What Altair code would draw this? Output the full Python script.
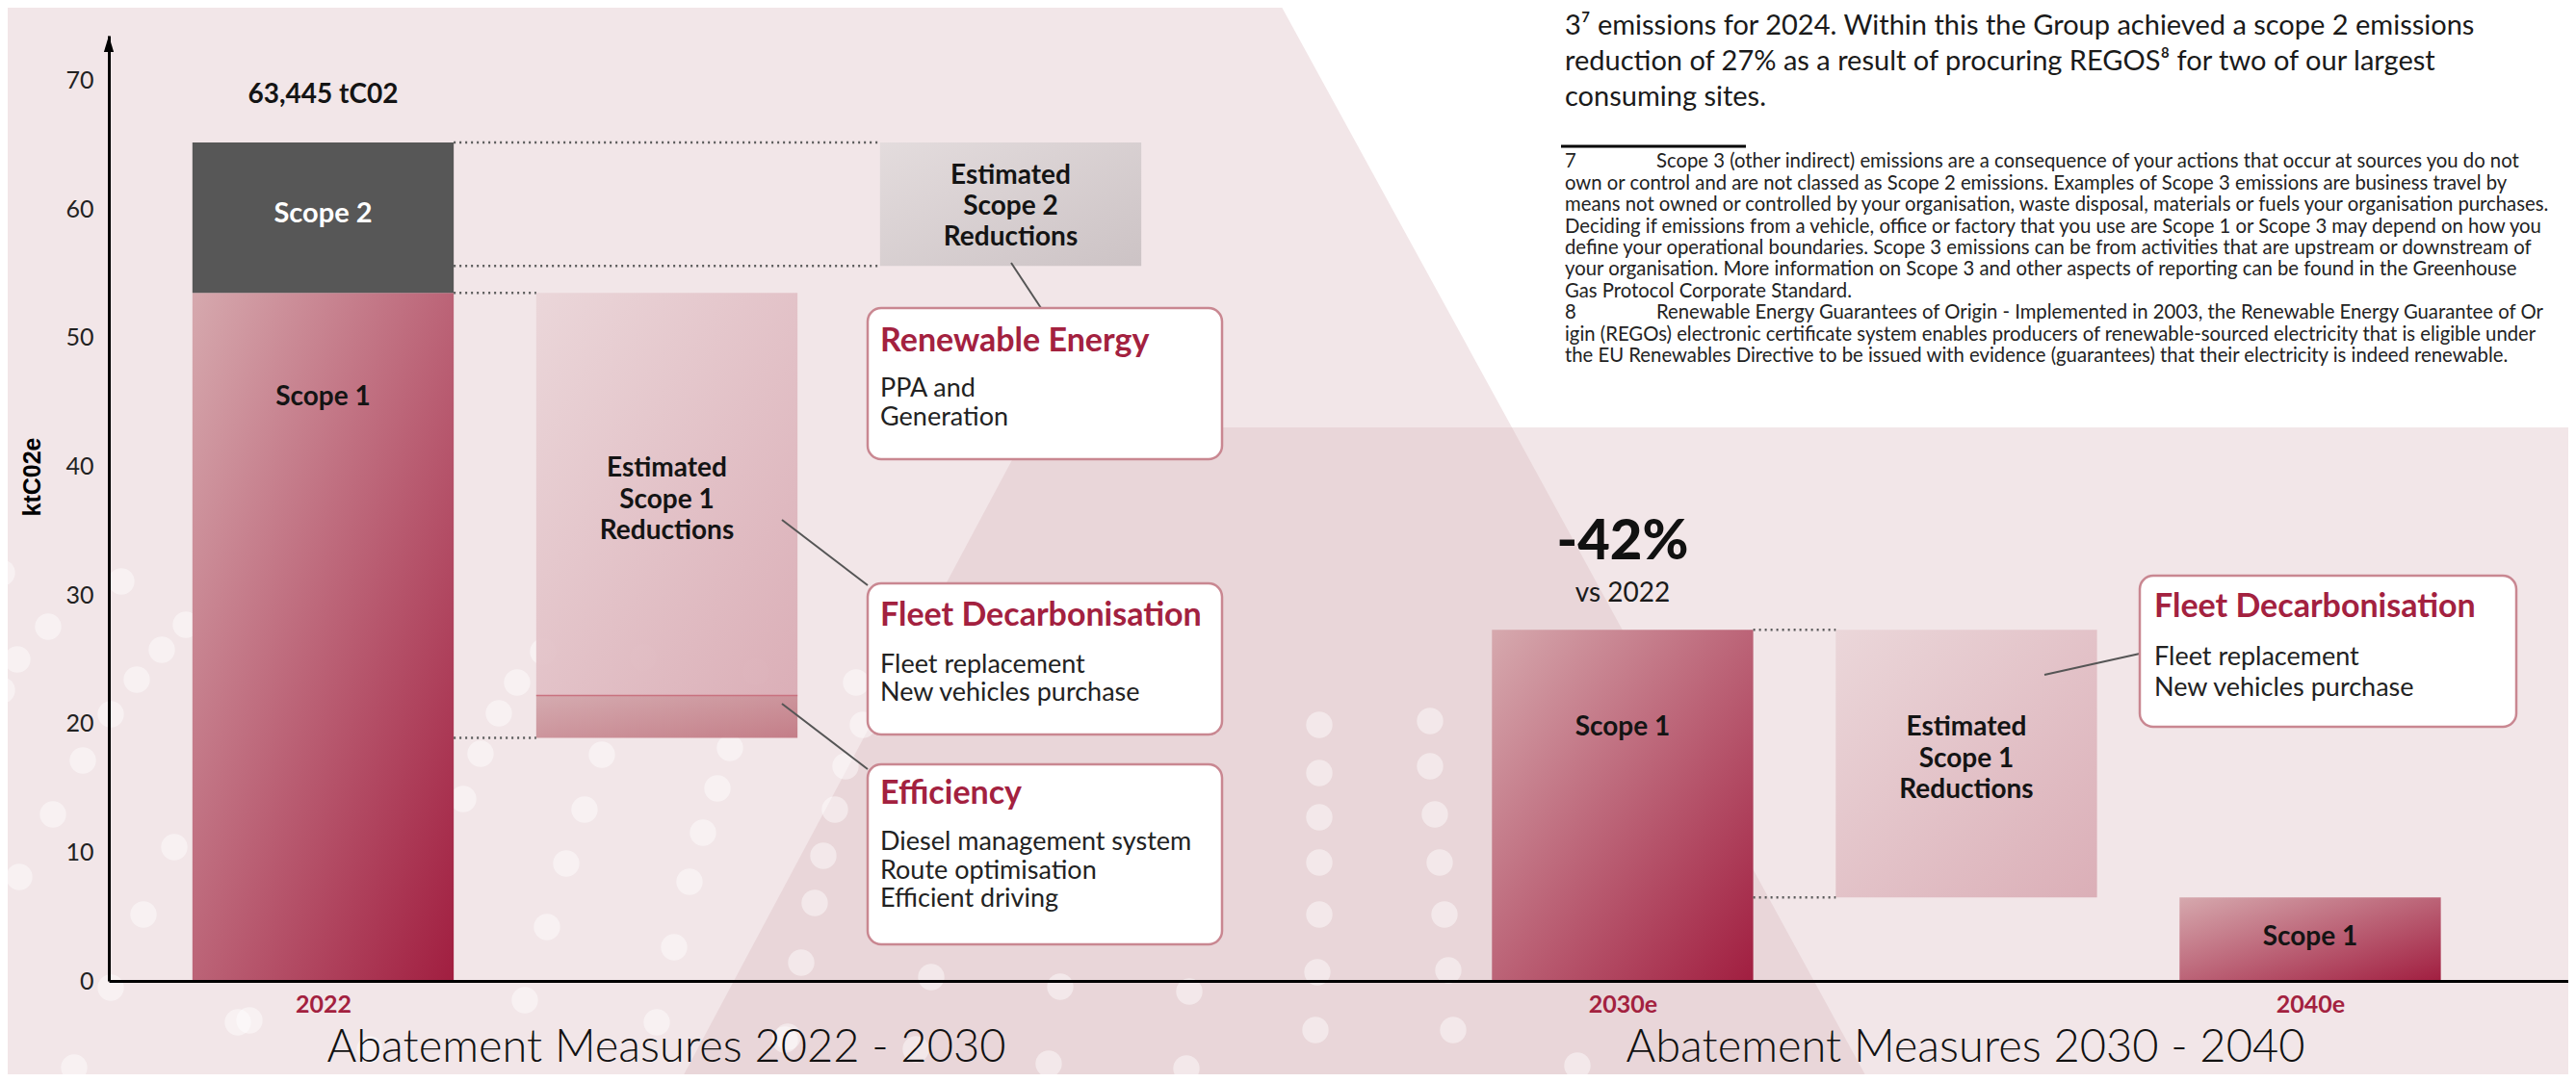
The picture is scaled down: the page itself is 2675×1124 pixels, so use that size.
import altair as alt
import pandas as pd

# ------------------------------------------------------------------ data
years = ["2022", "2030e", "2040e"]
year_slot = [0.0, 3.78, 5.78]            # horizontal slot of each year's bar
scope1_kt = [53.5, 27.3, 6.5]
scope2_kt = [11.7, 0.0, 0.0]
total_2022_label = "63,445 tC02"

reduction_kind = ["scope2", "fleet", "efficiency", "fleet2"]
reduction_slot = [2.0, 1.0, 1.0, 4.78]
reduction_top = [65.2, 53.5, 22.2, 27.3]
reduction_bottom = [55.6, 22.2, 18.9, 6.5]

y_ticks = [0, 10, 20, 30, 40, 50, 60, 70]

reduction_text = ["Estimated", "Scope 1", "Reductions"]
scope2_reduction_text = ["Estimated", "Scope 2", "Reductions"]
callout_titles = ["Renewable Energy", "Fleet Decarbonisation", "Efficiency", "Fleet Decarbonisation"]
callout_bodies = [
    ["PPA and", "Generation"],
    ["Fleet replacement", "New vehicles purchase"],
    ["Diesel management system", "Route optimisation", "Efficient driving"],
    ["Fleet replacement", "New vehicles purchase"],
]
section_titles = ["Abatement Measures 2022 - 2030", "Abatement Measures 2030 - 2040"]
change_label = "-42%"
change_sub = "vs 2022"
paragraph = [
    "3\u2077 emissions for 2024. Within this the Group achieved a scope 2 emissions",
    "reduction of 27% as a result of procuring REGOS\u2078 for two of our largest",
    "consuming sites.",
]
footnote_nums = ["7", "8"]
footnotes = [
    "Scope 3 (other indirect) emissions are a consequence of your actions that occur at sources you do not",
    "own or control and are not classed as Scope 2 emissions. Examples of Scope 3 emissions are business travel by",
    "means not owned or controlled by your organisation, waste disposal, materials or fuels your organisation purchases.",
    "Deciding if emissions from a vehicle, office or factory that you use are Scope 1 or Scope 3 may depend on how you",
    "define your operational boundaries. Scope 3 emissions can be from activities that are upstream or downstream of",
    "your organisation. More information on Scope 3 and other aspects of reporting can be found in the Greenhouse",
    "Gas Protocol Corporate Standard.",
    "Renewable Energy Guarantees of Origin - Implemented in 2003, the Renewable Energy Guarantee of Or",
    "igin (REGOs) electronic certificate system enables producers of renewable-sourced electricity that is eligible under",
    "the EU Renewables Directive to be issued with evidence (guarantees) that their electricity is indeed renewable.",
]

# ------------------------------------------------------------------ layout
W, H = 2554, 982
PAD = {"left": 105, "top": 29, "right": 0, "bottom": 97}
OFF_X, OFF_Y = 8 + PAD["left"], 8 + PAD["top"]
X_DOM = [-0.6232, 6.5308]
Y_DOM = [0, 73.5]
HALF = 0.38  # half bar width in slot units
RED = "#A3213F"


def sx(px):
    return X_DOM[0] + (px - OFF_X) * (X_DOM[1] - X_DOM[0]) / W


def sy(py):
    return Y_DOM[1] - (py - OFF_Y) * (Y_DOM[1] - Y_DOM[0]) / H


XS = alt.Scale(domain=X_DOM, nice=False, zero=False)
YS = alt.Scale(domain=Y_DOM, nice=False, zero=False)

label_expr = " : ".join(
    f"abs(datum.value - {p}) < 0.01 ? '{y}'" for p, y in zip(year_slot, years)
) + " : ''"

X_AXIS = alt.Axis(values=year_slot, labelExpr=label_expr, grid=False, ticks=False,
                  domainColor="black", domainWidth=3, labelFont="Lato", labelFontSize=25,
                  labelFontWeight="bold", labelColor=RED, labelPadding=12, title=None,
                  zindex=1, labelFlush=False)
Y_AXIS = alt.Axis(values=y_ticks, grid=False, ticks=False, domainColor="black", domainWidth=3,
                  labelFont="Lato", labelFontSize=25, labelColor="#222222", labelPadding=16,
                  title="ktC02e", titleFont="Liberation Sans", titleFontSize=25,
                  titleFontWeight="bold", titleColor="black", titleAngle=270, titleX=-80,
                  titleY=458, titleAlign="center", titleBaseline="middle", zindex=1,
                  labelFlush=False)


def X(f):
    return alt.X(f, type="quantitative", scale=XS, axis=X_AXIS)


def Y(f):
    return alt.Y(f, type="quantitative", scale=YS, axis=Y_AXIS)


def grad(c0, c1):
    return alt.LinearGradient(
        gradient="linear",
        stops=[alt.GradientStop(color=c0, offset=0), alt.GradientStop(color=c1, offset=1)],
        x1=0, y1=0, x2=1, y2=1,
    )


# ------------------------------------------------------------------ background shapes
white_poly = pd.DataFrame({"x": [sx(1327), sx(1570), sx(2690)],
                           "y": [sy(0)] * 3,
                           "y2": [sy(0), sy(444), sy(444)]})
trap = pd.DataFrame({"x": [sx(706), sx(1069), sx(1570), sx(1941)],
                     "y": [sy(1124), sy(444), sy(444), sy(1124)],
                     "y2": [sy(1124)] * 4})
bg_white = alt.Chart(white_poly).mark_area(color="white", orient="vertical").encode(
    x=X("x"), y=Y("y"), y2="y2")
bg_trap = alt.Chart(trap).mark_area(color="#E9D6D9", orient="vertical").encode(
    x=X("x"), y=Y("y"), y2="y2")

dot_px = [
    (2, 595), (126, 604), (193, 649), (50, 651), (18, 685), (168, 675), (142, 706), (2, 717), (115, 742),
    (86, 790), (55, 846), (20, 911), (181, 880), (149, 950), (115, 1026), (247, 1062), (77, 1109),
    (499, 783), (481, 830), (518, 741), (537, 709), (564, 677), (668, 683), (785, 698), (625, 784),
    (607, 841), (588, 897), (568, 963), (716, 916), (730, 865), (745, 819), (758, 777), (700, 984),
    (545, 1039), (682, 1062), (818, 1077), (855, 889), (867, 841), (878, 796), (846, 938), (832, 1000),
    (896, 753), (889, 709), (1370, 753), (1485, 749), (1370, 803), (1485, 796), (1370, 849), (1490, 846),
    (1370, 896), (1495, 896), (1370, 950), (1500, 950), (1368, 1010), (1504, 1008), (967, 1015),
    (1101, 1025), (1235, 1030), (951, 1090), (1089, 1105), (1232, 1110), (1366, 1070), (1509, 1070),
    (1638, 1107), (259, 1060), (384, 1090), (815, 1080),
]
dots = pd.DataFrame({"x": [sx(p[0]) for p in dot_px], "y": [sy(p[1]) for p in dot_px]})
bg_dots = alt.Chart(dots).mark_circle(size=750, color="white", opacity=0.45).encode(
    x=X("x"), y=Y("y"))

# ------------------------------------------------------------------ bars
bars = pd.DataFrame({"year": years, "slot": year_slot, "s1": scope1_kt, "s2": scope2_kt})
bars["left"] = bars["slot"] - HALF
bars["right"] = bars["slot"] + HALF
bars["base"] = 0.0
bars["s2top"] = bars["s1"] + bars["s2"]

scope1_layer = alt.Chart(bars).mark_rect(color=grad("#D6A9AE", "#A11E40")).encode(
    x=X("left"), x2="right", y=Y("base"), y2="s1")
scope2_layer = alt.Chart(bars[bars["s2"] > 0]).mark_rect(color="#575757").encode(
    x=X("left"), x2="right", y=Y("s1"), y2="s2top")

red = pd.DataFrame({"kind": reduction_kind, "slot": reduction_slot,
                    "top": reduction_top, "bottom": reduction_bottom})
red["left"] = red["slot"] - HALF
red["right"] = red["slot"] + HALF
red_fill = {"scope2": ("#E2DBDC", "#C9C0C2"), "fleet": ("#EAD5D8", "#D9AAB3"),
            "efficiency": ("#D2A6AB", "#C07580"), "fleet2": ("#EAD5D8", "#D9AAB3")}
red_layers = [
    alt.Chart(red[red["kind"] == k]).mark_rect(color=grad(*red_fill[k]), opacity=0.92).encode(
        x=X("left"), x2="right", y=Y("bottom"), y2="top")
    for k in reduction_kind
]
eff_edge = alt.Chart(red[red["kind"] == "efficiency"]).mark_rule(color="#C9727F", strokeWidth=1.5).encode(
    x=X("left"), x2="right", y=Y("top"))

# dotted guide lines from bar edges to reduction boxes
guides = pd.DataFrame({
    "x": [year_slot[0] + HALF] * 4 + [year_slot[1] + HALF] * 2,
    "x2": [reduction_slot[0] - HALF] * 2 + [reduction_slot[1] - HALF] * 2 + [reduction_slot[3] - HALF] * 2,
    "y": [reduction_top[0], reduction_bottom[0], reduction_top[1], reduction_bottom[2],
          reduction_top[3], reduction_bottom[3]],
})
guide_layer = alt.Chart(guides).mark_rule(color="#5A5A5A", strokeWidth=2.5, strokeDash=[2, 4]).encode(
    x=X("x"), x2="x2", y=Y("y"))

# ------------------------------------------------------------------ callouts
callout_px = [(901, 1269, 320, 477), (901, 1269, 606, 763), (901, 1269, 794, 981), (2222, 2613, 598, 755)]
boxes = pd.DataFrame({"x": [sx(c[0]) for c in callout_px], "x2": [sx(c[1]) for c in callout_px],
                      "y": [sy(c[2]) for c in callout_px], "y2": [sy(c[3]) for c in callout_px]})
box_layer = alt.Chart(boxes).mark_rect(cornerRadius=14, fill="white", stroke="#C98791",
                                       strokeWidth=2.5).encode(x=X("x"), x2="x2", y=Y("y"), y2="y2")

conn_px = [(1050, 273, 1081, 320), (812, 540, 901, 608), (812, 731, 901, 799), (2123, 701, 2222, 679)]
conns = pd.DataFrame({"x": [sx(c[0]) for c in conn_px], "y": [sy(c[1]) for c in conn_px],
                      "x2": [sx(c[2]) for c in conn_px], "y2": [sy(c[3]) for c in conn_px]})
conn_layer = alt.Chart(conns).mark_rule(color="#555555", strokeWidth=2).encode(
    x=X("x"), y=Y("y"), x2="x2", y2="y2")

# ------------------------------------------------------------------ texts
texts = []


def add(style, txt, x, py):
    texts.append({"style": style, "text": txt, "x": x, "y": sy(py)})


add("bar", total_2022_label, year_slot[0], 99)
add("bar_w", "Scope 2", year_slot[0], 222)
add("bar", "Scope 1", year_slot[0], 413)
for i, t in enumerate(reduction_text):
    add("bar", t, reduction_slot[1], 487 + 32.5 * i)
for i, t in enumerate(scope2_reduction_text):
    add("bar", t, reduction_slot[0], 183 + 32 * i)
add("bar", "Scope 1", year_slot[1], 756)
for i, t in enumerate(reduction_text):
    add("bar", t, reduction_slot[3], 756 + 32.5 * i)
add("bar", "Scope 1", year_slot[2], 974)
add("big", change_label, year_slot[1], 564)
add("vs", change_sub, year_slot[1], 617)

title_pos = [(914, 355), (914, 640), (914, 825), (2237, 631)]
body_pos = [[404, 434], [691, 720], [875, 905, 934], [683, 715]]
for (px, py), t, body, bys in zip(title_pos, callout_titles, callout_bodies, body_pos):
    add("ctitle", t, sx(px), py)
    for line, by in zip(body, bys):
        add("cbody", line, sx(px), by)

add("section", section_titles[0], sx(692), 1089)
add("section", section_titles[1], sx(2041), 1089)

for i, line in enumerate(paragraph):
    add("para", line, sx(1625), 27 + 37 * i)

foot_y = [168, 191, 213, 236, 258, 280, 303, 325, 348, 370]
add("foot", footnote_nums[0], sx(1625), foot_y[0])
add("foot", footnote_nums[1], sx(1625), foot_y[7])
for i, line in enumerate(footnotes):
    x0 = 1720 if i in (0, 7) else 1625
    add("foot", line, sx(x0), foot_y[i])

tdf = pd.DataFrame(texts)
styles = {
    "bar": dict(fontSize=28, fontWeight="bold", color="#141414", align="center"),
    "bar_w": dict(fontSize=29, fontWeight="bold", color="white", align="center"),
    "big": dict(fontSize=58, fontWeight=900, color="#111111", align="center"),
    "vs": dict(fontSize=28, color="#1a1a1a", align="center"),
    "ctitle": dict(fontSize=34, fontWeight="bold", color=RED, align="left"),
    "cbody": dict(fontSize=27, color="#222222", align="left"),
    "section": dict(fontSize=47, fontWeight=300, color="#111111", align="center"),
    "para": dict(fontSize=29, color="#1a1a1a", align="left"),
    "foot": dict(fontSize=20.3, color="#222222", align="left"),
}
text_layers = [
    alt.Chart(tdf[tdf["style"] == s]).mark_text(baseline="middle", font="Lato", **kw).encode(
        x=X("x"), y=Y("y"), text="text:N")
    for s, kw in styles.items()
]

# footnote separator rule
sep = pd.DataFrame({"x": [sx(1621)], "x2": [sx(1813)], "y": [sy(152)]})
sep_layer = alt.Chart(sep).mark_rule(color="black", strokeWidth=3).encode(x=X("x"), x2="x2", y=Y("y"))

# arrow head on the y axis
arrow = pd.DataFrame({"x": [X_DOM[0]], "y": [Y_DOM[1]]})
arrow_layer = alt.Chart(arrow).mark_point(shape="M0,0L-0.3,1L0.3,1Z", filled=True, color="black",
                                          size=1156, opacity=1).encode(x=X("x"), y=Y("y"))

chart = alt.layer(
    bg_white, bg_trap, bg_dots, scope1_layer, scope2_layer, *red_layers, eff_edge,
    guide_layer, conn_layer, box_layer, sep_layer, *text_layers, arrow_layer,
).properties(
    width=W, height=H,
    autosize=alt.AutoSizeParams(type="none"),
    padding=PAD,
    background="#F2E6E8",
).configure(font="Lato").configure_view(stroke=None)

chart.save("out.html", embed_options={"renderer": "svg", "actions": False})
